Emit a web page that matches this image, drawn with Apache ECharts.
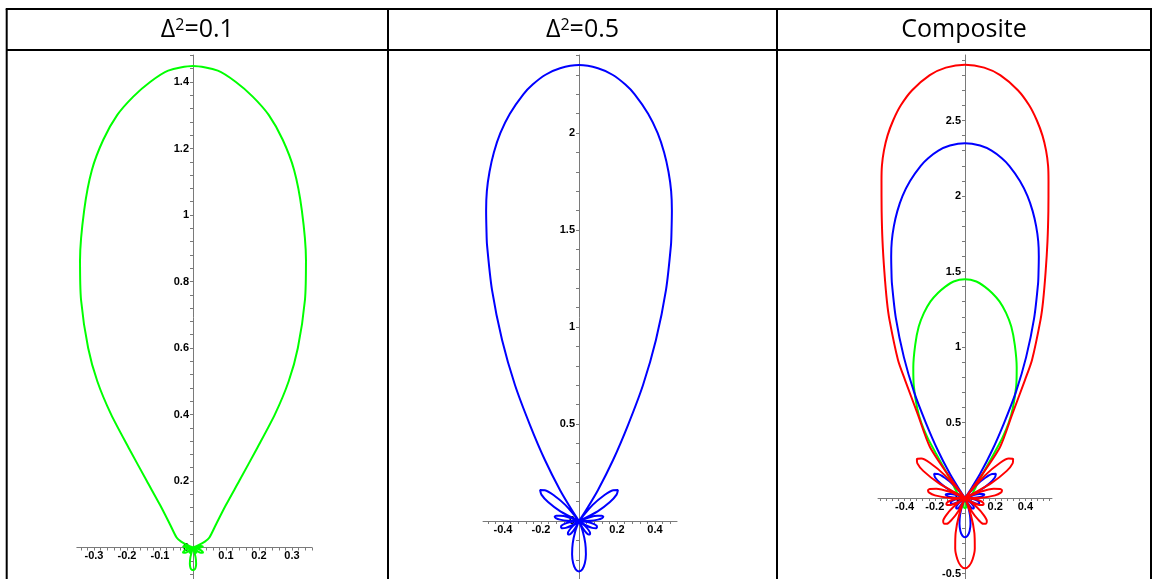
<!DOCTYPE html>
<html><head><meta charset="utf-8">
<script src="https://cdn.jsdelivr.net/npm/echarts@6/dist/echarts.min.js"></script>
<style>html,body{margin:0;padding:0;background:#fff}#c{width:1158px;height:579px}</style>
</head><body><div id="c"></div>
<script>
// ---- data: polar samples of each pattern (angle in degrees from +y axis, radius), right half; left half is its mirror
const greenAngles = [0,3,5.3,7.6,10,12.5,15.1,18,21.6,24.5,27.9,30.11,31.8,33.02,34.99,37.99,45,59,64,67,70,74,79,84,89,94,99,104,110,117,124,130,136,141,145,149,153,157,161,165,169,173,177,180];
const greenRadii  = [1.448,1.436,1.406,1.368,1.321,1.256,1.176,1.067,0.93,0.818,0.679,0.578,0.471,0.358,0.244,0.162,0.099,0.058,0.04,0.018,0,0.014,0.025,0.03,0.025,0.014,0,0.016,0.028,0.034,0.028,0.016,0,0.01,0.017,0.02,0.017,0.01,0,0.03,0.05,0.062,0.067,0.068];

const blueAngles = [0,2.45,4.38,6.19,7.59,9.83,11.7,13.27,14.66,15.92,16.99,17.99,18.79,21.03,23.46,25.67,27.53,29.7,32,33.5,35,41,45,48.5,52,55.5,59,63,67,71,74.5,77.5,80,83,86,89,93,97,101,105,109,113,117,121,125,129,133,137,140.5,144,148,152,156,160,164,168,172,176,180];
const blueRadii  = [2.35,2.336,2.307,2.263,2.219,2.131,2.042,1.952,1.861,1.768,1.673,1.577,1.503,1.276,1.017,0.778,0.558,0.362,0.189,0.068,0,0.11,0.19,0.24,0.26,0.24,0.19,0.11,0,0.06,0.1,0.123,0.13,0.123,0.1,0.06,0,0.045,0.078,0.096,0.1,0.096,0.078,0.045,0,0.04,0.07,0.086,0.09,0.086,0.07,0.04,0,0.06,0.12,0.175,0.22,0.25,0.26];

const redAngles = [0,2.55,4.76,7.39,9.28,10.78,12.07,13.14,14.04,14.75,16.2,17.81,19.6,21.68,22.98,25.9,26.95,29.5,34.5,36.5,38,41.5,45,48,51,54,57,60.5,64,68,72,75.5,78.5,81.5,85,89,93,97,101,105,108.5,112,116,120,124,128,132.5,136.5,140.5,144.5,148.5,153,157,161,165,169,173,176.5,180];
const redRadii  = [2.87,2.853,2.81,2.723,2.635,2.545,2.454,2.362,2.268,2.172,1.979,1.786,1.592,1.399,1.281,1.016,0.876,0.632,0.41,0.148,0,0.2,0.33,0.39,0.41,0.39,0.33,0.2,0,0.11,0.2,0.24,0.25,0.24,0.2,0.11,0,0.06,0.105,0.125,0.13,0.125,0.105,0.06,0,0.1,0.17,0.21,0.22,0.21,0.17,0.1,0,0.12,0.24,0.34,0.41,0.45,0.466];

const headers = ['Δ{s|2}=0.1', 'Δ{s|2}=0.5', 'Composite'];

const p1XLabels = [-0.3,-0.2,-0.1,0.1,0.2,0.3];
const p1YLabels = [0,0.2,0.4,0.6,0.8,1,1.2,1.4];
const p2XLabels = [-0.4,-0.2,0.2,0.4];
const p2YLabels = [0,0.5,1,1.5,2];
const p3XLabels = [-0.4,-0.2,0.2,0.4];
const p3YLabels = [-0.5,0,0.5,1,1.5,2,2.5];

// ---- layout (pixel origin, pixels per unit, axis extents, minor tick step)
const panels = [
  {ox:193, oy:547.5, sx:330, sy:332.5, x:[-0.352,0.36], y:[-0.12,1.481], xs:0.02, ys:0.04, xl:p1XLabels, yl:p1YLabels},
  {ox:579, oy:521, sx:190, sy:194, x:[-0.505,0.516], y:[-0.35,2.402], xs:0.04, ys:0.1, xl:p2XLabels, yl:p2YLabels},
  {ox:965, oy:498, sx:151, sy:151, x:[-0.576,0.576], y:[-0.6,2.934], xs:0.04, ys:0.1, xl:p3XLabels, yl:p3YLabels}
];

function buildCurve(angles, radii){
  const right = angles.map((a,i)=>{const t=a*Math.PI/180; return [radii[i]*Math.sin(t), radii[i]*Math.cos(t)];});
  const left = [];
  for (let i=angles.length-2;i>=1;i--) left.push([-right[i][0], right[i][1]]);
  const loop = right.concat(left);
  const k = radii.indexOf(0);
  const out = loop.slice(k).concat(loop.slice(0,k));
  out.push(loop[k]);
  return out;
}
function tickList(ext, step){
  const r=[]; const s=Math.ceil(ext[0]/step-1e-9), e=Math.floor(ext[1]/step+1e-9);
  for(let i=s;i<=e;i++) r.push(+(i*step).toFixed(4));
  return r;
}
const fmt = v => String(+(+v).toFixed(3));
const axisColor = '#7a7a7a';
const labelStyle = {color:'#000', fontWeight:'bold', fontSize:11, fontFamily:'Liberation Sans, Arial, sans-serif'};

const grids=[], xAxes=[], yAxes=[];
panels.forEach((P,i)=>{
  grids.push({left:P.ox+P.x[0]*P.sx, width:(P.x[1]-P.x[0])*P.sx, top:P.oy-P.y[1]*P.sy, height:(P.y[1]-P.y[0])*P.sy,
    containLabel:false, outerBoundsMode:'none'});
  xAxes.push({type:'value', gridIndex:i, min:P.x[0], max:P.x[1], position:'bottom', offset:P.y[0]*P.sy,
    axisLine:{onZero:false, lineStyle:{color:axisColor, width:1}},
    axisTick:{show:true, customValues:tickList(P.x,P.xs), length:3, inside:false, lineStyle:{color:axisColor}},
    axisLabel:Object.assign({customValues:P.xl, formatter:fmt, margin:3}, labelStyle),
    splitLine:{show:false}});
  yAxes.push({type:'value', gridIndex:i, min:P.y[0], max:P.y[1], position:'left', offset:P.x[0]*P.sx,
    axisLine:{onZero:false, lineStyle:{color:axisColor, width:1}},
    axisTick:{show:true, customValues:tickList(P.y,P.ys), length:3, inside:false, lineStyle:{color:axisColor}},
    axisLabel:Object.assign({customValues:P.yl, formatter:fmt, margin:4}, labelStyle),
    splitLine:{show:false}});
});

const green = buildCurve(greenAngles, greenRadii);
const blue = buildCurve(blueAngles, blueRadii);
const red = buildCurve(redAngles, redRadii);
function line(data, idx, color, z){
  return {type:'line', xAxisIndex:idx, yAxisIndex:idx, data:data, showSymbol:false, smooth:0.25,
    lineStyle:{color:color, width:2}, itemStyle:{color:color}, silent:true, z:z};
}
const series = [
  line(green,0,'#00ff00',2),
  line(blue,1,'#0000ff',2),
  line(green,2,'#00ff00',2),
  line(blue,2,'#0000ff',3),
  line(red,2,'#ff0000',4)
];

const B = {top:9, head:50, left:6.7, c1:388, c2:777, right:1151, bottom:579};
const ls = {stroke:'#000', lineWidth:2};
const graphic = [
  {type:'line', shape:{x1:B.left-1, y1:B.top, x2:B.right+1, y2:B.top}, style:ls},
  {type:'line', shape:{x1:B.left, y1:B.head, x2:B.right, y2:B.head}, style:ls},
  {type:'line', shape:{x1:B.left, y1:B.top, x2:B.left, y2:B.bottom}, style:ls},
  {type:'line', shape:{x1:B.c1, y1:B.top, x2:B.c1, y2:B.bottom}, style:ls},
  {type:'line', shape:{x1:B.c2, y1:B.top, x2:B.c2, y2:B.bottom}, style:ls},
  {type:'line', shape:{x1:B.right, y1:B.top, x2:B.right, y2:B.bottom}, style:ls}
];
const centers = [(B.left+B.c1)/2, (B.c1+B.c2)/2, (B.c2+B.right)/2];
headers.forEach((t,i)=>{
  graphic.push({type:'text', x:centers[i], y:29.5, style:{text:t, fill:'#000', font:'25px "Open Sans"', align:'center', verticalAlign:'middle',
    rich:{s:{fontSize:16, fontFamily:'Open Sans', verticalAlign:'top', fill:'#000'}}}});
});

const chart = echarts.init(document.getElementById('c'), null, {renderer:'canvas'});
chart.setOption({animation:false, backgroundColor:'#fff', grid:grids, xAxis:xAxes, yAxis:yAxes, series:series, graphic:graphic});
</script></body></html>
